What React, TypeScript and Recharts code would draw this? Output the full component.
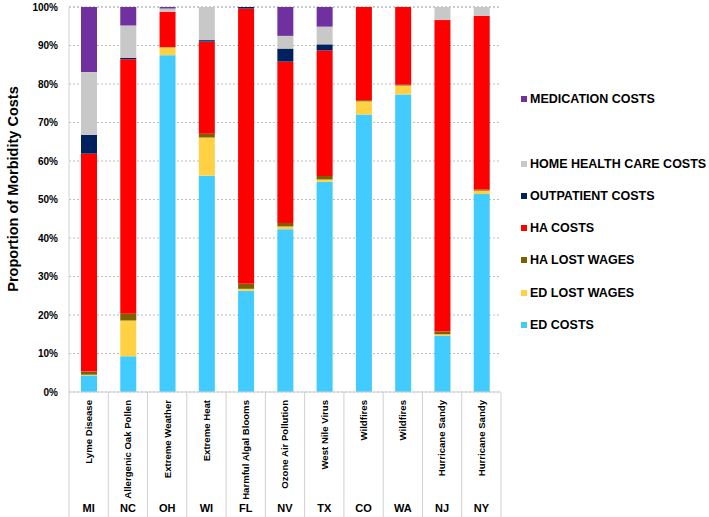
import { BarChart, Bar, XAxis, YAxis, CartesianGrid } from 'recharts';

const categories = [
  'Lyme Disease',
  'Allergenic Oak Pollen',
  'Extreme Weather',
  'Extreme Heat',
  'Harmful Algal Blooms',
  'Ozone Air Pollution',
  'West Nile Virus',
  'Wildfires',
  'Wildfires',
  'Hurricane Sandy',
  'Hurricane Sandy',
];
const states = ['MI', 'NC', 'OH', 'WI', 'FL', 'NV', 'TX', 'CO', 'WA', 'NJ', 'NY'];

// percent of morbidity costs
const edCosts = [4.3, 9.3, 87.5, 56.2, 26.3, 42.3, 54.6, 72.1, 77.3, 14.6, 51.4];
const edLostWages = [0.2, 9.3, 2.0, 9.9, 0.5, 0.7, 0.6, 3.4, 2.3, 0.4, 0.9];
const haLostWages = [0.8, 1.7, 0.1, 1.0, 1.3, 0.9, 0.9, 0.3, 0.2, 0.7, 0.3];
const haCosts = [56.6, 66.1, 9.1, 23.9, 71.5, 41.9, 32.6, 24.2, 20.2, 80.9, 45.1];
const outpatientCosts = [4.9, 0.4, 0, 0.4, 0.4, 3.4, 1.6, 0, 0, 0, 0];
const homeHealthCosts = [16.3, 8.4, 0.9, 8.6, 0, 3.3, 4.6, 0, 0, 3.4, 2.3];
const medicationCosts = [16.9, 4.8, 0.4, 0, 0, 7.5, 5.1, 0, 0, 0, 0];

const yTicks = [0, 10, 20, 30, 40, 50, 60, 70, 80, 90, 100];

const series = [
  { key: 'ed', name: 'ED COSTS', color: '#41CBFE', values: edCosts },
  { key: 'edlw', name: 'ED LOST WAGES', color: '#FFD143', values: edLostWages },
  { key: 'halw', name: 'HA LOST WAGES', color: '#7F6000', values: haLostWages },
  { key: 'ha', name: 'HA COSTS', color: '#FF0000', values: haCosts },
  { key: 'op', name: 'OUTPATIENT COSTS', color: '#002060', values: outpatientCosts },
  { key: 'hhc', name: 'HOME HEALTH CARE COSTS', color: '#C8C8C8', values: homeHealthCosts },
  { key: 'med', name: 'MEDICATION COSTS', color: '#7030A0', values: medicationCosts },
];

const data = categories.map((c, i) => {
  const row: Record<string, string | number> = { id: `${c}-${states[i]}`, name: c, state: states[i] };
  series.forEach((s) => {
    row[s.key] = s.values[i];
  });
  return row;
});

const FONT = 'Arial, "Liberation Sans", sans-serif';
const PLOT_LEFT = 69;
const PLOT_RIGHT = 501;
const PLOT_BOTTOM = 392;
const STEP = (PLOT_RIGHT - PLOT_LEFT) / categories.length;

const CategoryTick = (props: any) => {
  const { x, index } = props;
  const last = index === categories.length - 1;
  return (
    <g>
      <line x1={x - STEP / 2} y1={PLOT_BOTTOM} x2={x - STEP / 2} y2={517} stroke="#d0d0d0" />
      {last && <line x1={x + STEP / 2} y1={PLOT_BOTTOM} x2={x + STEP / 2} y2={517} stroke="#d0d0d0" />}
      <text
        x={x}
        y={PLOT_BOTTOM + 8}
        transform={`rotate(-90, ${x}, ${PLOT_BOTTOM + 8})`}
        textAnchor="end"
        dy="0.35em"
        fontFamily={FONT}
        fontWeight="bold"
        fontSize={9.6}
        fill="#000"
      >
        {categories[index]}
      </text>
      <text x={x} y={512} textAnchor="middle" fontFamily={FONT} fontWeight="bold" fontSize={11} fill="#000">
        {states[index]}
      </text>
    </g>
  );
};

const YLabel = () => (
  <text
    x={13}
    y={189}
    transform="rotate(-90, 13, 189)"
    textAnchor="middle"
    dy="0.35em"
    fontFamily={FONT}
    fontWeight="bold"
    fontSize={14.5}
    fill="#000"
  >
    Proportion of Morbidity Costs
  </text>
);

const legendRows = [
  { name: 'MEDICATION COSTS', color: '#7030A0', y: 99 },
  { name: 'HOME HEALTH CARE COSTS', color: '#C8C8C8', y: 164 },
  { name: 'OUTPATIENT COSTS', color: '#002060', y: 196 },
  { name: 'HA COSTS', color: '#FF0000', y: 228 },
  { name: 'HA LOST WAGES', color: '#7F6000', y: 260 },
  { name: 'ED LOST WAGES', color: '#FFD143', y: 293 },
  { name: 'ED COSTS', color: '#41CBFE', y: 325 },
];

export default function App() {
  return (
    <div style={{ position: 'relative', width: 709, height: 517, background: '#fff' }}>
      <style>{'body{margin:0}'}</style>
      <BarChart
        width={709}
        height={517}
        data={data}
        margin={{ top: 7, right: 709 - PLOT_RIGHT, left: 0, bottom: 0 }}
        barSize={16}
      >
        <CartesianGrid vertical={false} stroke="#bdbdbd" strokeDasharray="2 2" />
        <XAxis
          dataKey="id"
          interval={0}
          tickLine={false}
          axisLine={{ stroke: '#d0d0d0' }}
          tick={<CategoryTick />}
          height={517 - PLOT_BOTTOM}
        />
        <YAxis
          width={PLOT_LEFT}
          domain={[0, 100]}
          ticks={yTicks}
          tickFormatter={(v) => `${v}%`}
          tickLine={false}
          axisLine={{ stroke: '#d0d0d0' }}
          tick={{ fontFamily: FONT, fontWeight: 'bold', fontSize: 10, fill: '#000', dx: -3 }}
          label={<YLabel />}
        />
        {series.map((s) => (
          <Bar key={s.key} dataKey={s.key} name={s.name} stackId="a" fill={s.color} isAnimationActive={false} />
        ))}
      </BarChart>
      {legendRows.map((r) => (
        <div
          key={r.name}
          style={{
            position: 'absolute',
            left: 521,
            top: r.y - 8,
            height: 16,
            display: 'flex',
            alignItems: 'center',
            fontFamily: FONT,
            fontWeight: 'bold',
            fontSize: 12.5,
            color: '#000',
            whiteSpace: 'nowrap',
          }}
        >
          <span style={{ display: 'inline-block', width: 6, height: 6, background: r.color, marginRight: 3 }} />
          {r.name}
        </div>
      ))}
    </div>
  );
}
